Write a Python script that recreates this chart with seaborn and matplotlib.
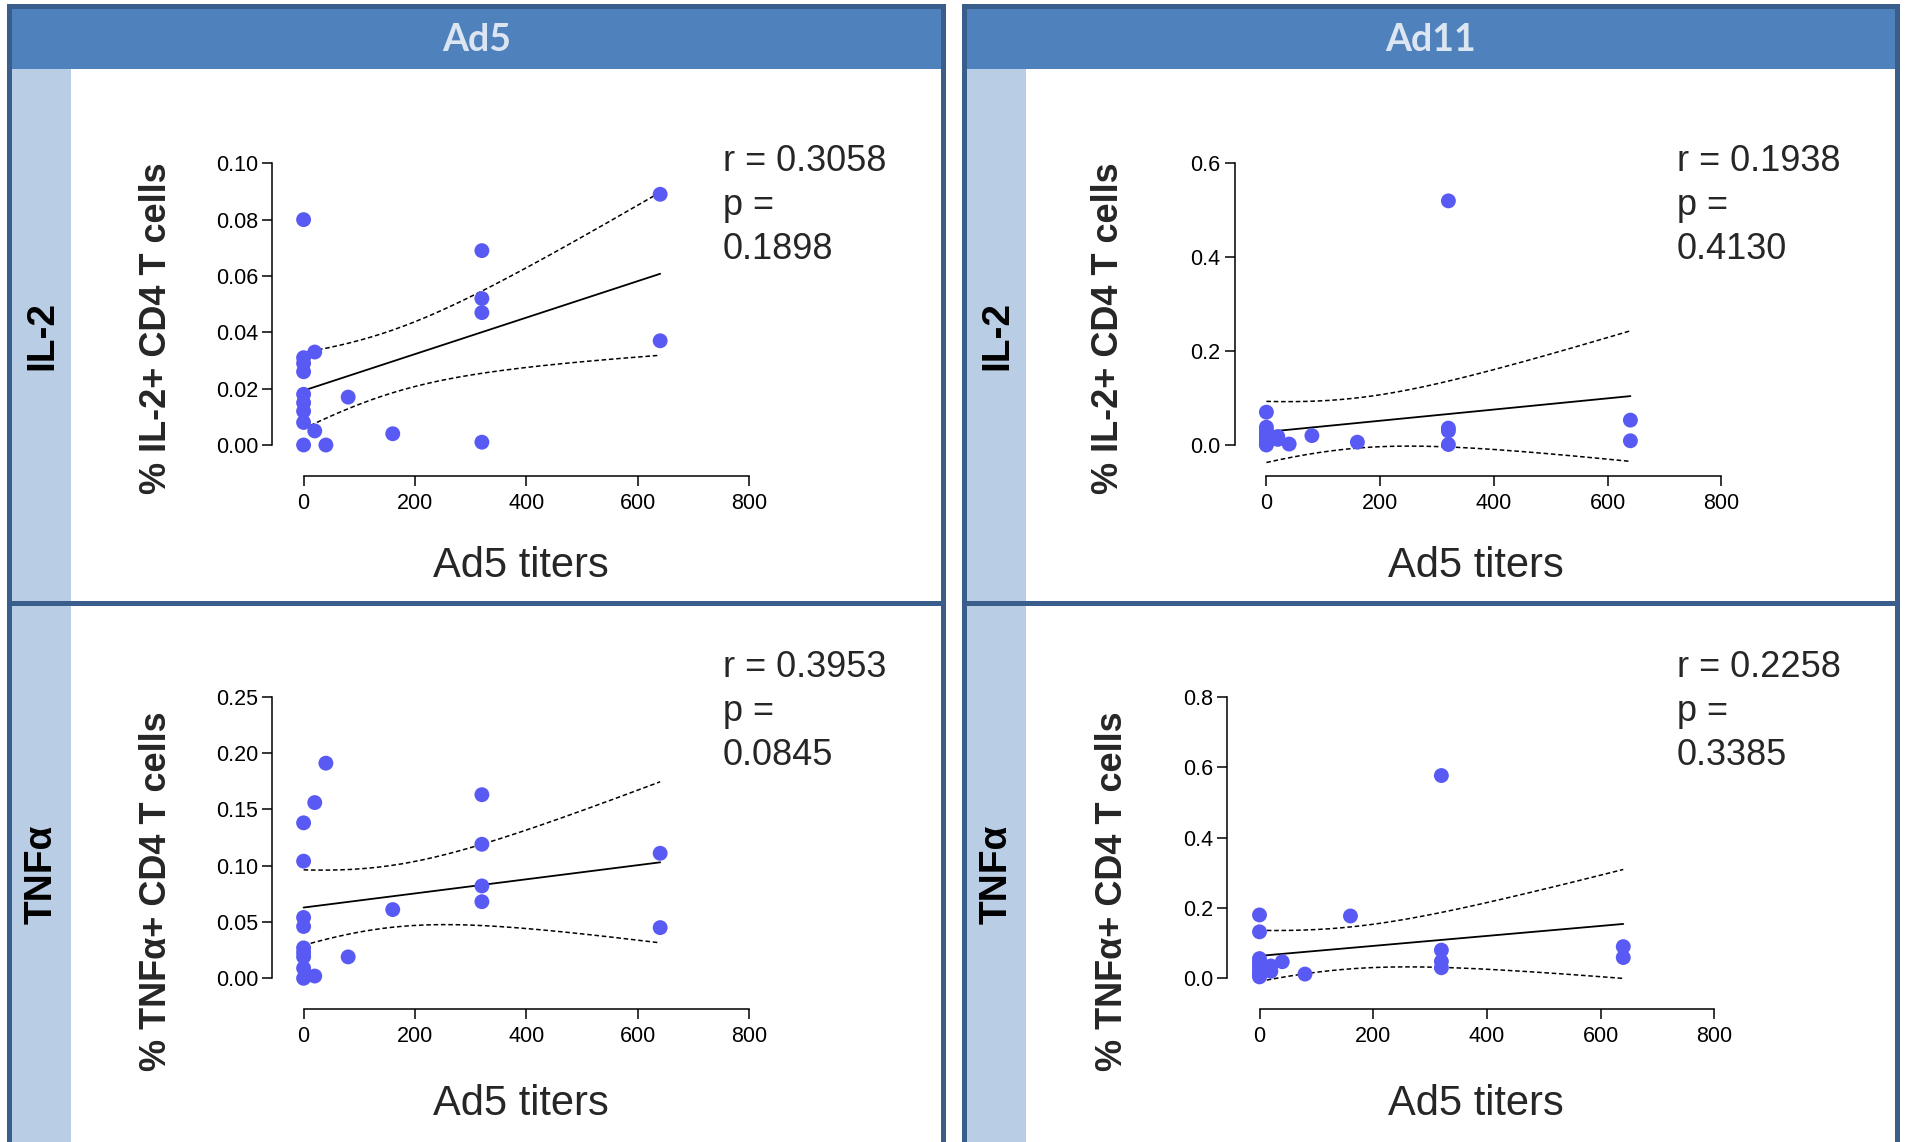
import numpy as np
import pandas as pd
import matplotlib
matplotlib.use("Agg")
import matplotlib.pyplot as plt
import seaborn as sns
from matplotlib.patches import Rectangle

# =============================================================================
# DATA
# =============================================================================
# same 20 donors in every panel
titers = [0, 0, 0, 0, 0, 0, 0, 0, 0, 20, 20, 40, 80, 160, 320, 320, 320, 320, 640, 640]

ad5_il2 = [0.080, 0.031, 0.029, 0.026, 0.018, 0.015, 0.012, 0.008, 0.000, 0.033,
           0.005, 0.000, 0.017, 0.004, 0.069, 0.052, 0.047, 0.001, 0.089, 0.037]
ad11_il2 = [0.070, 0.038, 0.030, 0.022, 0.016, 0.010, 0.005, 0.002, 0.000, 0.018,
            0.012, 0.002, 0.020, 0.006, 0.520, 0.036, 0.030, 0.001, 0.053, 0.009]
ad5_tnf = [0.138, 0.104, 0.054, 0.046, 0.027, 0.023, 0.019, 0.009, 0.000, 0.156,
           0.002, 0.191, 0.019, 0.061, 0.163, 0.119, 0.082, 0.068, 0.111, 0.045]
ad11_tnf = [0.180, 0.132, 0.056, 0.046, 0.036, 0.027, 0.017, 0.010, 0.004, 0.035,
            0.020, 0.047, 0.012, 0.177, 0.576, 0.080, 0.048, 0.030, 0.090, 0.059]

viruses = ["Ad5", "Ad11"]
cytokines = ["IL-2", "TNFα"]
ylabels = ["% IL-2+ CD4 T cells", "% TNFα+ CD4 T cells"]
xlabel = "Ad5 titers"

r_vals = {("IL-2", "Ad5"): "0.3058", ("IL-2", "Ad11"): "0.1938",
          ("TNFα", "Ad5"): "0.3953", ("TNFα", "Ad11"): "0.2258"}
p_vals = {("IL-2", "Ad5"): "0.1898", ("IL-2", "Ad11"): "0.4130",
          ("TNFα", "Ad5"): "0.0845", ("TNFα", "Ad11"): "0.3385"}

yticks = {("IL-2", "Ad5"): [0, 0.02, 0.04, 0.06, 0.08, 0.10],
          ("IL-2", "Ad11"): [0, 0.2, 0.4, 0.6],
          ("TNFα", "Ad5"): [0, 0.05, 0.10, 0.15, 0.20, 0.25],
          ("TNFα", "Ad11"): [0, 0.2, 0.4, 0.6, 0.8]}
xticks = [0, 200, 400, 600, 800]

T_CRIT = 2.101  # t(0.975, df=18)

rows = []
for cyto, vir, vals in [("IL-2", "Ad5", ad5_il2), ("IL-2", "Ad11", ad11_il2),
                        ("TNFα", "Ad5", ad5_tnf), ("TNFα", "Ad11", ad11_tnf)]:
    for t, v in zip(titers, vals):
        rows.append({"cytokine": cyto, "virus": vir, "titer": t, "value": v})
df = pd.DataFrame(rows)

# =============================================================================
# STYLE / LAYOUT
# =============================================================================
sns.set_theme(style="ticks")
plt.rcParams['font.family'] = ['Liberation Sans', 'DejaVu Sans']

W, H = 1905, 1142
BORDER = "#3A5E8C"
HEADER = "#4F81BD"
STRIP = "#B9CDE5"
HEADER_TXT = "#DCE6F2"
DOT = "#5959F4"

fig = plt.figure(figsize=(W / 100, H / 100), dpi=100)
fig.patch.set_facecolor("white")

# background frame drawn in pixel coordinates
bg = fig.add_axes([0, 0, 1, 1], zorder=-10)
bg.set_xlim(0, W)
bg.set_ylim(H, 0)
bg.axis("off")

columns = [(7, 946), (962, 1900)]
for (L, R), vir in zip(columns, viruses):
    bg.add_patch(Rectangle((L, 4), R - L, 65, color=HEADER, lw=0))
    bg.add_patch(Rectangle((L + 5, 69), 59, H - 69, color=STRIP, lw=0))
    bg.add_patch(Rectangle((L, 4), R - L, 5, color=BORDER, lw=0))
    bg.add_patch(Rectangle((L, 4), 5, H - 4, color=BORDER, lw=0))
    bg.add_patch(Rectangle((R - 5, 4), 5, H - 4, color=BORDER, lw=0))
    bg.add_patch(Rectangle((L, 601), R - L, 5, color=BORDER, lw=0))
    bg.text((L + R) / 2, 40, vir, ha="center", va="center", fontsize=27,
            fontweight="bold", family=["Lato", "DejaVu Sans"], color=HEADER_TXT)
    for cyto, yc in zip(cytokines, [335, 874]):
        bg.text(L + 35, yc, cyto, ha="center", va="center", rotation=90,
                fontsize=28, fontweight="bold", color="black")

# panel geometry in pixels: (y-spine x, x=0 px, x=800 px)
col_geom = {("IL-2", "Ad5"): (272, 303.6, 749.3), ("IL-2", "Ad11"): (1234.6, 1266.4, 1721.4),
            ("TNFα", "Ad5"): (272, 303.6, 749.3), ("TNFα", "Ad11"): (1227, 1259.5, 1714.2)}
# (y top px, y=0 px, x-spine y px)
row_geom = {"IL-2": (163.3, 445, 476), "TNFα": (696.7, 978.3, 1009.3)}
text_x = {"Ad5": 723, "Ad11": 1677}
text_base = {"IL-2": [171, 215, 259], "TNFα": [677, 721, 765]}
ylab_pos = {("IL-2", "Ad5"): (156, 328), ("IL-2", "Ad11"): (1109, 328),
            ("TNFα", "Ad5"): (156, 891), ("TNFα", "Ad11"): (1113, 891)}
xlab_pos = {("IL-2", "Ad5"): (521, 566), ("IL-2", "Ad11"): (1476, 566),
            ("TNFα", "Ad5"): (521, 1104), ("TNFα", "Ad11"): (1476, 1104)}

for cyto, ylab in zip(cytokines, ylabels):
    for vir in viruses:
        key = (cyto, vir)
        spx, x0px, x8px = col_geom[key]
        ytop, y0px, xsp = row_geom[cyto]
        ax = fig.add_axes([spx / W, 1 - xsp / H, (x8px - spx) / W, (xsp - ytop) / H])
        ax.set_facecolor("none")

        sub = df[(df["cytokine"] == cyto) & (df["virus"] == vir)]
        x = sub["titer"].to_numpy(float)
        y = sub["value"].to_numpy(float)

        # linear fit with 95% confidence band of the mean
        n = len(x)
        b, a = np.polyfit(x, y, 1)
        resid = y - (a + b * x)
        s = np.sqrt(np.sum(resid ** 2) / (n - 2))
        sxx = np.sum((x - x.mean()) ** 2)
        xg = np.linspace(x.min(), x.max(), 200)
        yg = a + b * xg
        se = s * np.sqrt(1 / n + (xg - x.mean()) ** 2 / sxx)
        ax.plot(xg, yg, color="black", lw=1.3, zorder=2)
        ax.plot(xg, yg + T_CRIT * se, color="black", lw=1.1, ls=(0, (3, 1.8)), zorder=2)
        ax.plot(xg, yg - T_CRIT * se, color="black", lw=1.1, ls=(0, (3, 1.8)), zorder=2)

        sns.scatterplot(data=sub, x="titer", y="value", ax=ax, color=DOT, s=115,
                        edgecolor="none", linewidth=0, zorder=3, clip_on=False)

        ymax = yticks[key][-1]
        ax.set_xlim(-800 * (x0px - spx) / (x8px - x0px), 800)
        ax.set_ylim(-ymax * (xsp - y0px) / (y0px - ytop), ymax)
        ax.set_xticks(xticks)
        ax.set_yticks(yticks[key])
        if ymax < 0.5:
            ax.set_yticklabels([f"{v:.2f}" for v in yticks[key]])
        else:
            ax.set_yticklabels([f"{v:.1f}" for v in yticks[key]])
        ax.set_xticklabels([str(v) for v in xticks])
        ax.set_xlabel("")
        ax.set_ylabel("")

        sns.despine(ax=ax)
        ax.spines["left"].set_bounds(0, ymax)
        ax.spines["bottom"].set_bounds(0, 800)
        for sp in ["left", "bottom"]:
            ax.spines[sp].set_linewidth(1.1)
            ax.spines[sp].set_color("black")
        ax.tick_params(axis="both", direction="out", length=7, width=1.1,
                       labelsize=15.5, colors="black")
        ax.tick_params(axis="y", pad=3)
        ax.tick_params(axis="x", pad=5)

        # labels and statistics
        lx, ly = ylab_pos[key]
        bg.text(lx, ly, ylab, rotation=90, ha="center", va="center",
                fontsize=26, fontweight="bold")
        xx, xy = xlab_pos[key]
        bg.text(xx, xy, xlabel, ha="center", va="center", fontsize=30)
        for line, base in zip([f"r = {r_vals[key]}", "p =", p_vals[key]], text_base[cyto]):
            bg.text(text_x[vir], base, line, ha="left", va="baseline", fontsize=26)

fig.savefig("out.png", dpi=100)
